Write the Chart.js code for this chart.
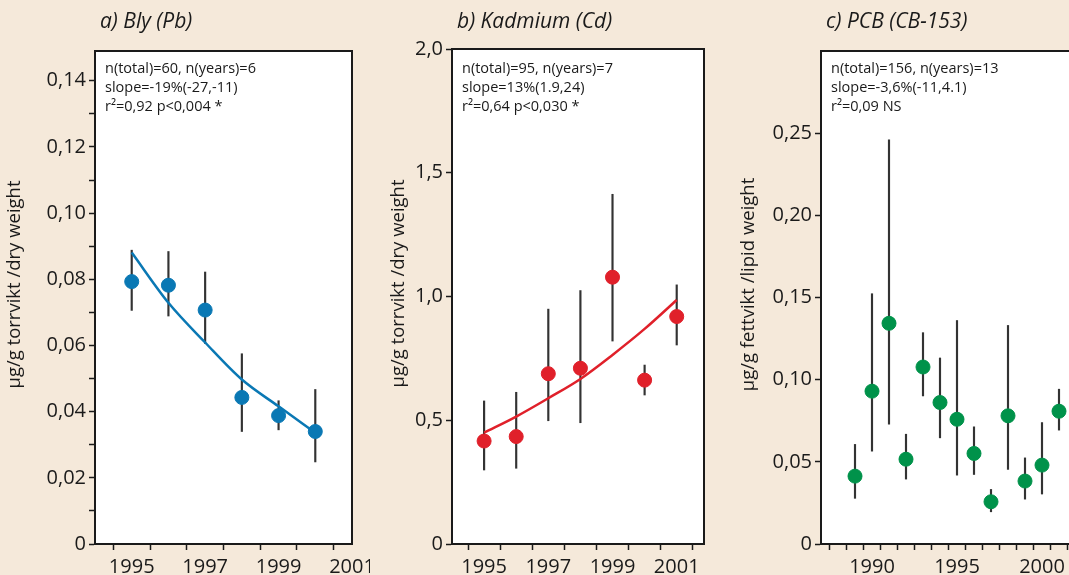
<!DOCTYPE html>
<html>
<head>
<meta charset="utf-8">
<script src="https://cdn.jsdelivr.net/npm/chart.js@4.4.1/dist/chart.umd.min.js"></script>
<style>
  html, body { margin: 0; padding: 0; }
  body { width: 1069px; height: 575px; overflow: hidden; background: #f5e9da; position: relative; }
  .panel { position: absolute; top: 0; height: 575px; }
</style>
</head>
<body>
<div class="panel" style="left:0;width:370px"><canvas id="chartA"></canvas></div>
<div class="panel" style="left:370px;width:360px"><canvas id="chartB"></canvas></div>
<div class="panel" style="left:730px;width:380px"><canvas id="chartC"></canvas></div>
<script>
// a) Bly (Pb)
const yearsA = [1995, 1996, 1997, 1998, 1999, 2000];
const meanA = [0.0793, 0.0782, 0.0707, 0.0443, 0.0388, 0.0340];
const lowA = [0.0706, 0.0689, 0.0606, 0.0340, 0.0345, 0.0248];
const highA = [0.0888, 0.0884, 0.0822, 0.0575, 0.0433, 0.0467];
const trendA = [0.0881, 0.0729, 0.0609, 0.0497, 0.0416, 0.0336];
const infoA = ["n(total)=60, n(years)=6", "slope=-19%(-27,-11)", "r²=0,92 p<0,004 *"];
const xTicksA = [1994, 1995, 1996, 1997, 1998, 1999, 2000, 2001];
const xLabelsA = [1995, 1997, 1999, 2001];
const yTicksA = [0, 0.01, 0.02, 0.03, 0.04, 0.05, 0.06, 0.07, 0.08, 0.09, 0.10, 0.11, 0.12, 0.13, 0.14];
const yLabelsA = [0, 0.02, 0.04, 0.06, 0.08, 0.10, 0.12, 0.14];

// b) Kadmium (Cd)
const yearsB = [1995, 1996, 1997, 1998, 1999, 2000, 2001];
const meanB = [0.416, 0.434, 0.688, 0.710, 1.078, 0.662, 0.919];
const lowB = [0.299, 0.306, 0.498, 0.490, 0.820, 0.602, 0.804];
const highB = [0.578, 0.613, 0.949, 1.024, 1.413, 0.723, 1.047];
const trendB = [0.450, 0.515, 0.589, 0.667, 0.764, 0.869, 0.986];
const infoB = ["n(total)=95, n(years)=7", "slope=13%(1.9,24)", "r²=0,64 p<0,030 *"];
const xTicksB = [1994, 1995, 1996, 1997, 1998, 1999, 2000, 2001];
const xLabelsB = [1995, 1997, 1999, 2001];
const yTicksB = [0, 0.5, 1.0, 1.5, 2.0];
const yLabelsB = [0, 0.5, 1.0, 1.5, 2.0];

// c) PCB (CB-153)
const yearsC = [1989, 1990, 1991, 1992, 1993, 1994, 1995, 1996, 1997, 1998, 1999, 2000, 2001];
const meanC = [0.0413, 0.0930, 0.1343, 0.0516, 0.1077, 0.0861, 0.0759, 0.0551, 0.0257, 0.0780, 0.0383, 0.0480, 0.0808];
const lowC = [0.0278, 0.0565, 0.0729, 0.0395, 0.0901, 0.0646, 0.0419, 0.0423, 0.0196, 0.0454, 0.0273, 0.0304, 0.0693];
const highC = [0.0606, 0.1523, 0.2460, 0.0668, 0.1286, 0.1132, 0.1360, 0.0713, 0.0332, 0.1330, 0.0524, 0.0739, 0.0942];
const infoC = ["n(total)=156, n(years)=13", "slope=-3,6%(-11,4.1)", "r²=0,09 NS"];
const xTicksC = [1987, 1988, 1989, 1990, 1991, 1992, 1993, 1994, 1995, 1996, 1997, 1998, 1999, 2000, 2001, 2002, 2003];
const xLabelsC = [1990, 1995, 2000];
const yTicksC = [0, 0.05, 0.10, 0.15, 0.20, 0.25];
const yLabelsC = [0, 0.05, 0.10, 0.15, 0.20, 0.25];

const INK = "#1a1a1a";

// white plot area, black frame, titles and stats text
const plotBox = {
  id: "plotBox",
  beforeDraw(chart) {
    const a = chart.chartArea;
    const ctx = chart.ctx;
    ctx.save();
    ctx.fillStyle = "#ffffff";
    ctx.fillRect(a.left, a.top, a.right - a.left, a.bottom - a.top);
    ctx.restore();
  },
  afterDraw(chart, args, opts) {
    const a = chart.chartArea;
    const ctx = chart.ctx;
    ctx.save();
    ctx.strokeStyle = INK;
    ctx.lineWidth = 2;
    ctx.strokeRect(a.left, a.top, a.right - a.left, a.bottom - a.top);
    ctx.fillStyle = INK;
    ctx.textBaseline = "alphabetic";
    ctx.font = 'italic 21px "Open Sans"';
    ctx.fillText(opts.title, a.left + 5, 28);
    ctx.font = '14.5px "Open Sans"';
    opts.info.forEach((line, i) => ctx.fillText(line, a.left + 10, 73 + i * 19));
    // vertical axis title, sits a little above the middle of the plot
    ctx.translate(opts.yTitleX, (a.top + a.bottom) / 2 - 13);
    ctx.rotate(-Math.PI / 2);
    ctx.textAlign = "center";
    ctx.textBaseline = "middle";
    ctx.font = '18.5px "Open Sans"';
    ctx.fillText(opts.yTitle, 0, 0);
    ctx.restore();
  }
};

function near(list, v) {
  return list.some(t => Math.abs(t - v) < 1e-9);
}

function makePanel(id, p) {
  const datasets = [
    {
      type: "bar",
      data: p.years.map((x, i) => ({ x: x, y: [p.low[i], p.high[i]] })),
      backgroundColor: "#333333",
      barThickness: 1.5,
      grouped: false,
      order: 3
    },
    {
      type: "scatter",
      data: p.years.map((x, i) => ({ x: x, y: p.mean[i] })),
      backgroundColor: p.color,
      borderColor: p.color,
      pointRadius: 7,
      order: 1
    }
  ];
  if (p.trend) {
    datasets.push({
      type: "line",
      data: p.years.map((x, i) => ({ x: x, y: p.trend[i] })),
      borderColor: p.color,
      borderWidth: 2.5,
      pointRadius: 0,
      tension: 0.4,
      cubicInterpolationMode: "monotone",
      fill: false,
      order: 2
    });
  }

  return new Chart(document.getElementById(id), {
    type: "scatter",
    data: { datasets },
    plugins: [plotBox],
    options: {
      responsive: true,
      maintainAspectRatio: false,
      animation: false,
      events: [],
      layout: { padding: { left: p.padLeft, top: p.top, right: p.padRight, bottom: 0 } },
      plugins: {
        legend: { display: false },
        tooltip: { enabled: false },
        plotBox: { title: p.title, info: p.info, yTitle: p.yTitle, yTitleX: p.yTitleX }
      },
      scales: {
        x: {
          type: "linear",
          min: p.xMin,
          max: p.xMax,
          offset: false,
          afterBuildTicks: s => { s.ticks = p.xTicks.map(v => ({ value: v })); },
          afterFit: s => { s.height = 31; s.paddingLeft = 0; s.paddingRight = 0; },
          grid: { drawOnChartArea: false, drawTicks: true, tickLength: 6, tickWidth: 1.5, tickColor: INK },
          border: { display: true, color: INK, width: 2 },
          ticks: {
            autoSkip: false,
            maxRotation: 0,
            padding: 5,
            color: INK,
            font: { family: "Open Sans", size: 20 },
            callback: v => (near(p.xLabels, v) ? String(v) : "")
          }
        },
        y: {
          type: "linear",
          min: 0,
          max: p.yMax,
          afterBuildTicks: s => { s.ticks = p.yTicks.map(v => ({ value: v })); },
          afterFit: s => { s.width = p.yWidth; s.paddingTop = 0; s.paddingBottom = 0; },
          grid: { drawOnChartArea: false, drawTicks: true, tickLength: 6, tickWidth: 1.5, tickColor: INK },
          border: { display: true, color: INK, width: 2 },
          ticks: {
            autoSkip: false,
            padding: 3,
            color: INK,
            font: { family: "Open Sans", size: 20 },
            callback: v => (near(p.yLabels, v) ? (v === 0 ? "0" : v.toFixed(p.dec).replace(".", ",")) : "")
          }
        }
      }
    }
  });
}

makePanel("chartA", {
  title: "a) Bly (Pb)", info: infoA, color: "#0a78b4",
  years: yearsA, mean: meanA, low: lowA, high: highA, trend: trendA,
  xMin: 1994, xMax: 2001, xTicks: xTicksA, xLabels: xLabelsA,
  yMax: 0.149, yTicks: yTicksA, yLabels: yLabelsA, dec: 2,
  yTitle: "µg/g torrvikt /dry weight", yTitleX: 15,
  padLeft: 4, yWidth: 91, top: 51, padRight: 18
});

makePanel("chartB", {
  title: "b) Kadmium (Cd)", info: infoB, color: "#e0202a",
  years: yearsB, mean: meanB, low: lowB, high: highB, trend: trendB,
  xMin: 1994, xMax: 2001.85, xTicks: xTicksB, xLabels: xLabelsB,
  yMax: 2.0, yTicks: yTicksB, yLabels: yLabelsB, dec: 1,
  yTitle: "µg/g torrvikt /dry weight", yTitleX: 29,
  padLeft: 19, yWidth: 63, top: 49, padRight: 26
});

makePanel("chartC", {
  title: "c) PCB (CB-153)", info: infoC, color: "#00924a",
  years: yearsC, mean: meanC, low: lowC, high: highC, trend: null,
  xMin: 1987, xMax: 2003, xTicks: xTicksC, xLabels: xLabelsC,
  yMax: 0.30, yTicks: yTicksC, yLabels: yLabelsC, dec: 2,
  yTitle: "µg/g fettvikt /lipid weight", yTitleX: 19,
  padLeft: 10, yWidth: 81, top: 51, padRight: 17
});
</script>
</body>
</html>
